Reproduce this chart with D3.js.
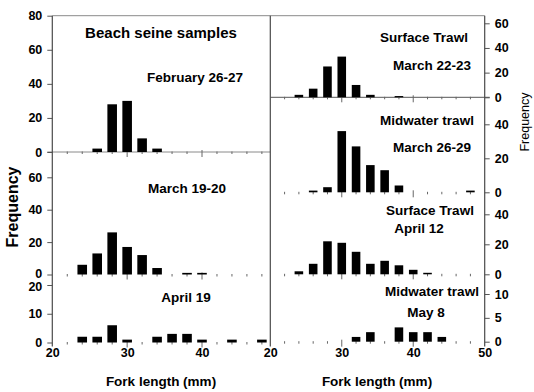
<!DOCTYPE html>
<html>
<head>
<meta charset="utf-8">
<script src="https://cdn.jsdelivr.net/npm/d3@7"></script>
<style>
  html, body { margin: 0; padding: 0; background: #fff; }
  svg { display: block; font-family: "Liberation Sans", Arial, sans-serif; }
  .tick text { font-weight: bold; font-size: 12.5px; fill: #000; }
</style>
</head>
<body>
<svg id="chart" width="534" height="392"></svg>
<script>
// Fork length bins (mm), one bar per 2-mm class
const lengthBins = [22, 24, 26, 28, 30, 32, 34, 36, 38, 40, 42, 44, 46, 48];

// Beach seine samples
const beachFeb2627 = [0, 0, 2, 28, 30, 8, 2, 0, 0, 0, 0, 0, 0, 0];
const beachMar1920 = [0, 6, 13, 26, 17, 12, 4, 0, 1, 1, 0, 0, 0, 0];
const beachApr19   = [0, 2, 2, 6, 1, 0, 2, 3, 3, 1, 0, 1, 0, 1];

// Trawl samples
const surfaceMar2223  = [0, 2, 7, 25, 33, 10, 2, 0, 1, 0, 0, 0, 0, 0];
const midwaterMar2629 = [0, 0, 1, 3, 36, 27, 16, 13, 4, 0, 0, 0, 0, 1];
const surfaceApr12    = [0, 2, 7, 22, 21, 15, 7, 9, 6, 3, 1, 0, 0, 0];
const midwaterMay8    = [0, 0, 0, 0, 0, 1, 2, 0, 3, 2, 2, 1, 0, 0];

// Axis tick labels
const xTickLabels = [20, 30, 40];
const xTickLabelsRight = [20, 30, 40, 50];
const yTicksFeb = [0, 20, 40, 60, 80];
const yTicksMar = [0, 20, 40, 60];
const yTicksApr = [0, 10, 20];
const yTicksSurfMar = [0, 20, 40, 60];
const yTicksMidMar = [0, 20, 40];
const yTicksSurfApr = [0, 20, 40];
const yTicksMidMay = [0, 5, 10];

const svg = d3.select("#chart");

const frameTop = 15.7, frameBottom = 346.5;
const leftX0 = 52.3, divX = 270.3, rightX1 = 484.7;

// Horizontal scales for the two columns
const xLeft = d3.scaleLinear().domain([20, 40]).range([leftX0, 202]);
const xRight = d3.scaleLinear().domain([20, 50]).range([divX, rightX1]);

// Panel layout: zero line, one reference value and its height, and small
// vertical nudges for the lowest / highest tick label where panels meet
const columns = [
  {
    x: xLeft, side: "left", barFrac: 0.64,
    panels: [
      { counts: beachFeb2627, ticks: yTicksFeb, y0: 152, ref: 80, yRef: 15.7, baseline: true },
      { counts: beachMar1920, ticks: yTicksMar, y0: 274.5, ref: 60, yRef: 177.3, nudgeLow: -1.5 },
      { counts: beachApr19, ticks: yTicksApr, y0: 342.5, ref: 20, yRef: 285, nudgeHigh: 1.5 }
    ]
  },
  {
    x: xRight, side: "right", barFrac: 0.6,
    panels: [
      { counts: surfaceMar2223, ticks: yTicksSurfMar, y0: 97.3, ref: 60, yRef: 23.3, baseline: true },
      { counts: midwaterMar2629, ticks: yTicksMidMar, y0: 192.3, ref: 40, yRef: 124.3 },
      { counts: surfaceApr12, ticks: yTicksSurfApr, y0: 274.3, ref: 40, yRef: 214.3 },
      { counts: midwaterMay8, ticks: yTicksMidMay, y0: 341.7, ref: 10, yRef: 294 }
    ]
  }
];

const hLine = "#8a8a8a", vLine = "#4a4a4a";

columns.forEach(col => {
  const x = col.x;
  const barW = col.barFrac * (x(22) - x(20));
  const xEnd = col.side === "left" ? divX : rightX1;

  col.panels.forEach(p => {
    const y = d3.scaleLinear().domain([0, p.ref]).range([p.y0, p.yRef]);
    const g = svg.append("g");

    if (p.baseline) {
      g.append("line")
        .attr("x1", col.side === "left" ? leftX0 - 5 : divX)
        .attr("x2", col.side === "left" ? xEnd : rightX1 + 5)
        .attr("y1", p.y0).attr("y2", p.y0)
        .attr("stroke", col.side === "left" ? hLine : "#555").attr("stroke-width", 1);
    }

    // x tick marks at each length class
    g.selectAll("line.xt").data(lengthBins).join("line")
      .attr("class", "xt")
      .attr("x1", d => x(d)).attr("x2", d => x(d))
      .attr("y1", d => p.y0 - (d % 10 === 0 ? 2 : 0.5))
      .attr("y2", d => p.y0 + (d % 10 === 0 ? 5 : 2))
      .attr("stroke", "#666").attr("stroke-width", 1);

    // bars
    g.selectAll("rect").data(lengthBins.map((b, i) => ({ b, v: p.counts[i] })).filter(d => d.v > 0))
      .join("rect")
      .attr("x", d => x(d.b) - barW / 2)
      .attr("width", barW)
      .attr("y", d => y(d.v))
      .attr("height", d => y(0) - y(d.v))
      .attr("fill", "#000");

    // y axis
    const axis = col.side === "left" ? d3.axisLeft(y) : d3.axisRight(y);
    axis.tickValues(p.ticks).tickSize(5).tickSizeOuter(0).tickPadding(5).tickFormat(d3.format("d"));
    const ag = svg.append("g")
      .attr("transform", `translate(${col.side === "left" ? leftX0 : rightX1},0)`)
      .call(axis);
    ag.select(".domain").remove();
    ag.selectAll(".tick line").attr("stroke", "#555");
    const lo = d3.min(p.ticks), hi = d3.max(p.ticks);
    ag.selectAll(".tick text")
      .attr("y", d => (d === lo && p.nudgeLow ? p.nudgeLow : 0) + (d === hi && p.nudgeHigh ? p.nudgeHigh : 0));
  });
});

// frame lines
svg.append("line").attr("x1", leftX0).attr("x2", rightX1).attr("y1", frameTop).attr("y2", frameTop)
  .attr("stroke", hLine);
[leftX0, divX, rightX1].forEach(xx => {
  svg.append("line").attr("x1", xx).attr("x2", xx).attr("y1", frameTop).attr("y2", frameBottom)
    .attr("stroke", vLine).attr("stroke-width", 1.2);
});

// bottom axis labels
const xbL = svg.append("g").attr("transform", `translate(0,345)`)
  .call(d3.axisBottom(xLeft).tickValues(xTickLabels).tickSize(0).tickPadding(3));
xbL.select(".domain").remove();
const xbR = svg.append("g").attr("transform", `translate(0,345)`)
  .call(d3.axisBottom(xRight).tickValues(xTickLabelsRight).tickSize(0).tickPadding(3));
xbR.select(".domain").remove();

// axis titles and panel annotations
function label(txt, x, y, size, opts = {}) {
  const t = svg.append("text").text(txt)
    .attr("x", x).attr("y", y)
    .attr("text-anchor", opts.anchor || "middle")
    .attr("font-size", size)
    .attr("font-weight", opts.weight || "bold")
    .attr("fill", "#000");
  if (opts.rotate) t.attr("transform", `rotate(-90,${x},${y})`);
  return t;
}

label("Fork length (mm)", 161, 386, "13.5px");
label("Fork length (mm)", 377, 386, "13.5px");
label("Frequency", 17.5, 207, "16px", { rotate: true });
label("Frequency", 529, 122, "12.5px", { rotate: true, weight: "normal" });

label("Beach seine samples", 161, 38, "15px");
label("February 26-27", 195, 82, "13.5px");
label("March 19-20", 187, 193, "13.5px");
label("April 19", 186, 302, "13.5px");
label("Surface Trawl", 424, 42, "13.5px");
label("March 22-23", 432, 70, "13.5px");
label("Midwater trawl", 427, 125, "13.5px");
label("March 26-29", 432, 152, "13.5px");
label("Surface Trawl", 430, 215, "13.5px");
label("April 12", 419, 233, "13.5px");
label("Midwater trawl", 432, 296, "13.5px");
label("May 8", 426, 317, "13.5px");
</script>
</body>
</html>
